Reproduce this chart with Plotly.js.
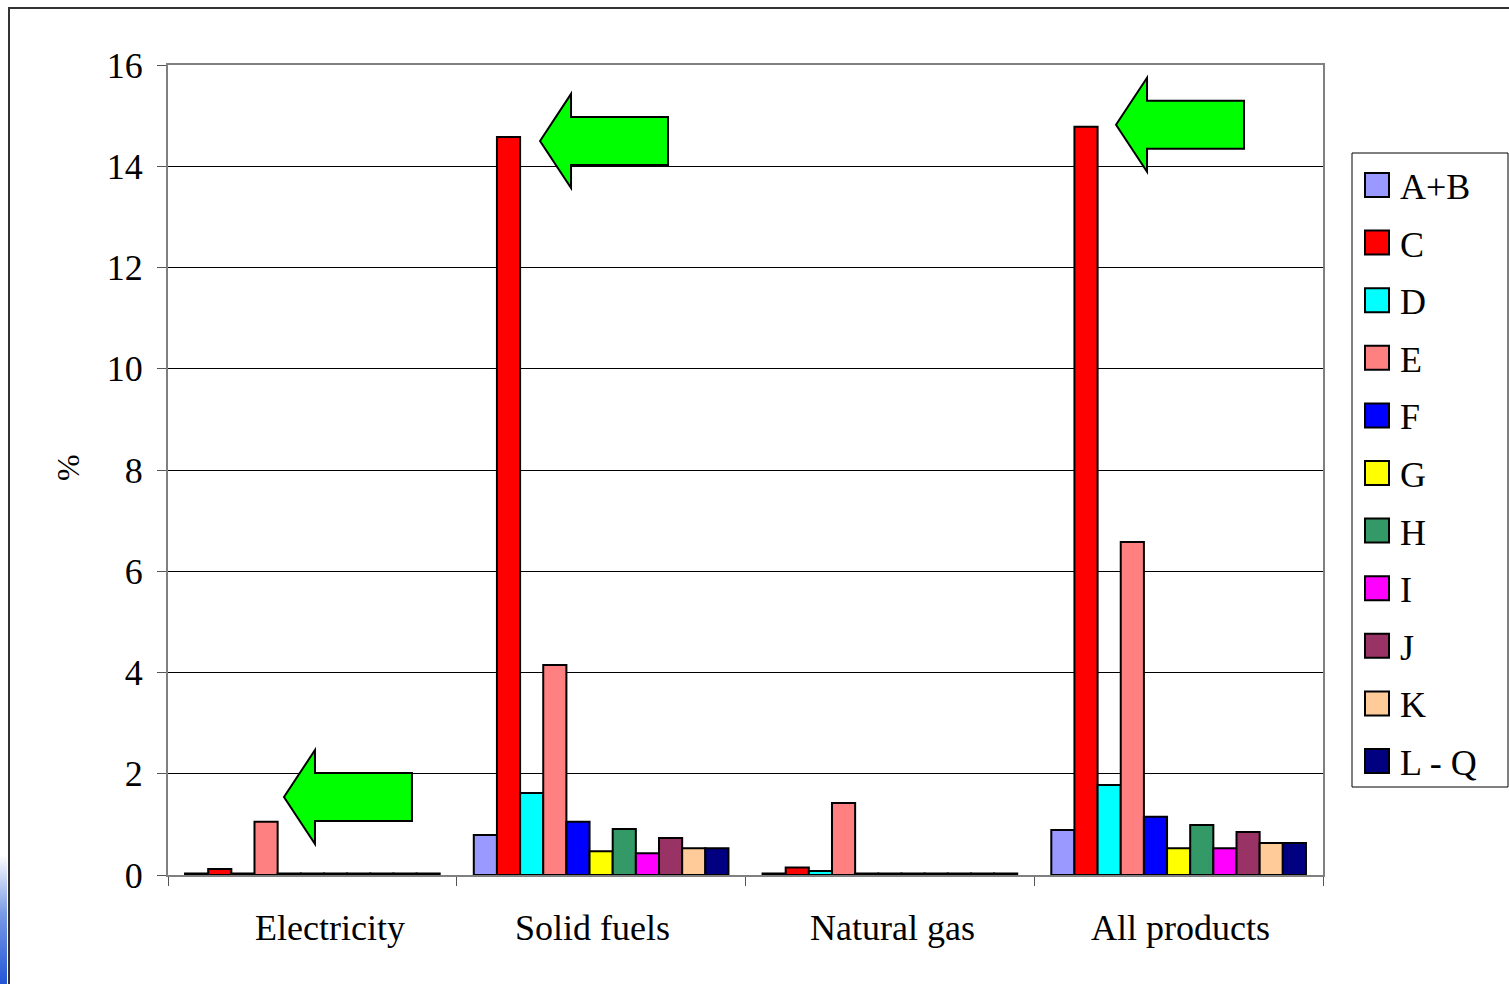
<!DOCTYPE html>
<html>
<head>
<meta charset="utf-8">
<script src="https://cdn.plot.ly/plotly-3.0.1.min.js"></script>
<style>
  html, body { margin: 0; padding: 0; width: 1509px; height: 984px; overflow: hidden; background: #fff; }
  #frame { position: absolute; left: 8px; top: 7px; width: 1600px; height: 1100px; border-left: 2px solid #333; border-top: 2px solid #333; box-sizing: border-box; }
  #edge { position: absolute; left: 0; top: 855px; width: 7px; height: 129px; background: linear-gradient(to bottom, #ffffff, #7a9be6 45%, #2356d6); }
  #chart { position: absolute; left: 0; top: 0; width: 1509px; height: 984px; }
</style>
</head>
<body>
<div id="frame"></div>
<div id="edge"></div>
<div id="chart"></div>
<script>
// Energy product groups on the x axis
const categories = ['Electricity', 'Solid fuels', 'Natural gas', 'All products'];

// Sectors (one bar series each) and their fills
const sectors = ['A+B', 'C', 'D', 'E', 'F', 'G', 'H', 'I', 'J', 'K', 'L - Q'];
const sectorColors = ['#9999FF', '#FF0000', '#00FFFF', '#FF8080', '#0000FF', '#FFFF00',
                      '#339966', '#FF00FF', '#993366', '#FFCC99', '#000080'];

// Share in %, per sector, ordered like `categories`
const valAB  = [0.03, 0.79, 0.03, 0.89];
const valC   = [0.12, 14.58, 0.15, 14.78];
const valD   = [0.03, 1.62, 0.08, 1.78];
const valE   = [1.05, 4.15, 1.42, 6.58];
const valF   = [0.03, 1.05, 0.03, 1.15];
const valG   = [0.03, 0.47, 0.03, 0.53];
const valH   = [0.03, 0.91, 0.03, 0.99];
const valI   = [0.03, 0.43, 0.03, 0.53];
const valJ   = [0.03, 0.73, 0.03, 0.85];
const valK   = [0.03, 0.53, 0.03, 0.63];
const valLQ  = [0.03, 0.53, 0.03, 0.63];
const seriesValues = [valAB, valC, valD, valE, valF, valG, valH, valI, valJ, valK, valLQ];

// Y axis ticks
const yTicks = [0, 2, 4, 6, 8, 10, 12, 14, 16];

// Highlight arrows: tip position (x as fraction of plot width, y in %)
const arrowTips = [
  { x: 0.1004, y: 1.54 },
  { x: 0.3221, y: 14.5 },
  { x: 0.8208, y: 14.82 }
];

// Plot geometry in pixels
const W = 1509, H = 984;
const M = { l: 168, r: 186, t: 65, b: 109 };
const PW = W - M.l - M.r, PH = H - M.t - M.b;
const YMAX = 16;

const FONT = 'Liberation Serif, Times New Roman, serif';

const traces = sectors.map((name, i) => ({
  type: 'bar',
  name: name,
  x: categories,
  y: seriesValues[i],
  marker: { color: sectorColors[i], line: { color: '#000', width: 2 } },
  hoverinfo: 'name+y',
  showlegend: false
}));

// Left-pointing block arrow; sizes in pixels converted to paper units
function arrowPath(tip) {
  const headLen = 31 / PW, bodyLen = 128 / PW;
  const headHalf = 47 / PH, bodyHalf = 24 / PH;
  const x0 = tip.x, y0 = tip.y / YMAX;
  const xh = x0 + headLen, xe = x0 + bodyLen;
  return `M${x0},${y0} L${xh},${y0 + headHalf} L${xh},${y0 + bodyHalf} L${xe},${y0 + bodyHalf} ` +
         `L${xe},${y0 - bodyHalf} L${xh},${y0 - bodyHalf} L${xh},${y0 - headHalf} Z`;
}

const shapes = arrowTips.map(t => ({
  type: 'path', xref: 'paper', yref: 'paper',
  path: arrowPath(t),
  fillcolor: '#00FF00', line: { color: '#000', width: 2 }
}));

// Legend drawn by hand so the swatches can be large
const px = X => (X - M.l) / PW;
const py = Y => (H - M.b - Y) / PH;
const legTop = 185, legStep = 57.6;
shapes.push({
  type: 'rect', xref: 'paper', yref: 'paper',
  x0: px(1352), x1: px(1508), y0: py(153), y1: py(787),
  line: { color: '#000', width: 1 }, fillcolor: 'rgba(0,0,0,0)'
});
const annotations = [];
sectors.forEach((name, i) => {
  const cy = legTop + i * legStep;
  shapes.push({
    type: 'rect', xref: 'paper', yref: 'paper',
    x0: px(1365), x1: px(1389), y0: py(cy + 12), y1: py(cy - 12),
    fillcolor: sectorColors[i], line: { color: '#000', width: 2 }
  });
  annotations.push({
    xref: 'paper', yref: 'paper', x: px(1398), y: py(cy + 2),
    xanchor: 'left', yanchor: 'middle', showarrow: false,
    text: name, font: { family: FONT, size: 36, color: '#000' }
  });
});

// Category labels under the axis, nudged a little like the original layout
const labelShift = [18, -9, 3, 2];
categories.forEach((c, i) => {
  annotations.push({
    xref: 'x', yref: 'paper', x: c, y: py(928),
    xshift: labelShift[i],
    xanchor: 'center', yanchor: 'middle', showarrow: false,
    text: c, font: { family: FONT, size: 36, color: '#000' }
  });
});

// Y axis title
annotations.push({
  xref: 'paper', yref: 'paper', x: px(68), y: py(468),
  xanchor: 'center', yanchor: 'middle', showarrow: false, textangle: -90,
  text: '%', font: { family: FONT, size: 32, color: '#000' }
});

const layout = {
  width: W, height: H,
  margin: M,
  paper_bgcolor: 'rgba(0,0,0,0)',
  plot_bgcolor: 'rgba(0,0,0,0)',
  barmode: 'group',
  bargap: 0.118,
  bargroupgap: 0,
  font: { family: FONT, size: 36, color: '#000' },
  xaxis: {
    type: 'category',
    tickson: 'boundaries',
    ticks: 'outside', ticklen: 9, tickcolor: '#555', tickwidth: 1,
    showticklabels: false,
    showline: true, linecolor: '#808080', linewidth: 2, mirror: true,
    showgrid: false, zeroline: false
  },
  yaxis: {
    range: [0, YMAX],
    tickvals: yTicks,
    ticks: 'outside', ticklen: 9, tickcolor: '#555', tickwidth: 1,
    ticklabelstandoff: 7,
    showline: true, linecolor: '#808080', linewidth: 2, mirror: true,
    showgrid: true, gridcolor: '#000', gridwidth: 1,
    zeroline: false,
    tickfont: { family: FONT, size: 36, color: '#000' }
  },
  shapes: shapes,
  annotations: annotations,
  showlegend: false
};

Plotly.newPlot('chart', traces, layout, { displayModeBar: false, staticPlot: true });
</script>
</body>
</html>
